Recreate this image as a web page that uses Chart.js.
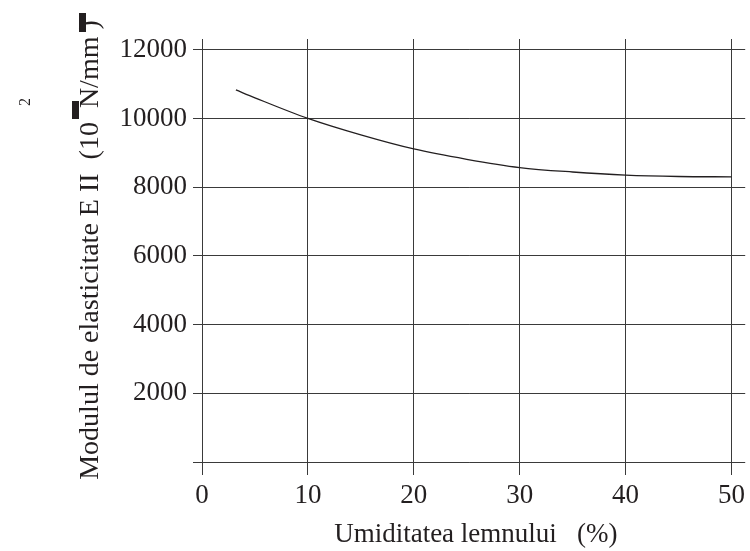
<!DOCTYPE html>
<html>
<head>
<meta charset="utf-8">
<script src="https://cdn.jsdelivr.net/npm/chart.js@4"></script>
<style>
  html, body { margin: 0; padding: 0; background: #fff; }
  #wrap { width: 750px; height: 551px; position: relative; }
</style>
</head>
<body>
<div id="wrap"><canvas id="grafic"></canvas></div>
<script>
// umiditate (%) si modulul de elasticitate
var umiditate = [3.2, 5, 10, 15, 20, 25, 30, 35, 40, 45, 50];
var modulE = [10830, 10600, 10000, 9520, 9110, 8810, 8570, 8440, 8350, 8310, 8300];
var ticksX = [0, 10, 20, 30, 40, 50];
var ticksY = [0, 2000, 4000, 6000, 8000, 10000, 12000];

var FONT = '"Liberation Serif", "Times New Roman", serif';

var puncte = umiditate.map(function(u, i) { return { x: u, y: modulE[i] }; });

// titlul axei Y e desenat separat (e mai lung decat zona graficului)
var titluY = {
    id: 'titluY',
    afterDraw: function(chart) {
        var ctx = chart.ctx;
        ctx.save();
        ctx.fillStyle = '#231f20';
        ctx.translate(91, 250);
        ctx.rotate(-Math.PI / 2);
        ctx.font = '28px ' + FONT;
        ctx.textAlign = 'center';
        ctx.textBaseline = 'middle';
        ctx.fillText('Modulul de elasticitate E II  (10  N/mm )', 0, 0);
        ctx.restore();

        // exponentul ramas departe de text
        ctx.save();
        ctx.fillStyle = '#231f20';
        ctx.translate(26, 102);
        ctx.rotate(-Math.PI / 2);
        ctx.font = '16px ' + FONT;
        ctx.textAlign = 'center';
        ctx.textBaseline = 'middle';
        ctx.fillText('2', 0, 0);
        ctx.restore();

        // cele doua dreptunghiuri negre din original
        ctx.save();
        ctx.fillStyle = '#231f20';
        ctx.fillRect(79, 13, 7, 19);
        ctx.fillRect(72, 101, 7, 18);
        ctx.restore();
    }
};

new Chart(document.getElementById('grafic'), {
    type: 'scatter',
    data: {
        datasets: [{
            data: puncte,
            showLine: true,
            borderColor: '#231f20',
            borderWidth: 1.3,
            pointRadius: 0,
            tension: 0.4,
            cubicInterpolationMode: 'monotone'
        }]
    },
    options: {
        responsive: true,
        maintainAspectRatio: false,
        animation: false,
        layout: { padding: { top: 39, right: 2, left: 0, bottom: 0 } },
        plugins: {
            legend: { display: false },
            tooltip: { enabled: false }
        },
        scales: {
            x: {
                type: 'linear',
                min: -0.85,
                max: 51.3,
                afterBuildTicks: function(ax) { ax.ticks = ticksX.map(function(v) { return { value: v }; }); },
                afterFit: function(ax) { ax.height = 76; },
                grid: { color: '#3a3a3a', lineWidth: 1, drawTicks: false },
                border: { display: false },
                ticks: { color: '#231f20', padding: 5, maxRotation: 0, font: { family: FONT, size: 27 } },
                title: {
                    display: true,
                    text: '  Umiditatea lemnului   (%)',
                    color: '#231f20',
                    padding: { top: 0, bottom: 0 },
                    font: { family: FONT, size: 27 }
                }
            },
            y: {
                min: -378,
                max: 12311,
                afterBuildTicks: function(ax) { ax.ticks = ticksY.map(function(v) { return { value: v }; }); },
                afterFit: function(ax) { ax.width = 193; },
                grid: { color: '#3a3a3a', lineWidth: 1, drawTicks: false },
                border: { display: false },
                ticks: {
                    color: '#231f20',
                    padding: 6,
                    font: { family: FONT, size: 27 },
                    callback: function(v) { return v === 0 ? '' : String(v); }
                }
            }
        }
    },
    plugins: [titluY]
});
</script>
</body>
</html>
